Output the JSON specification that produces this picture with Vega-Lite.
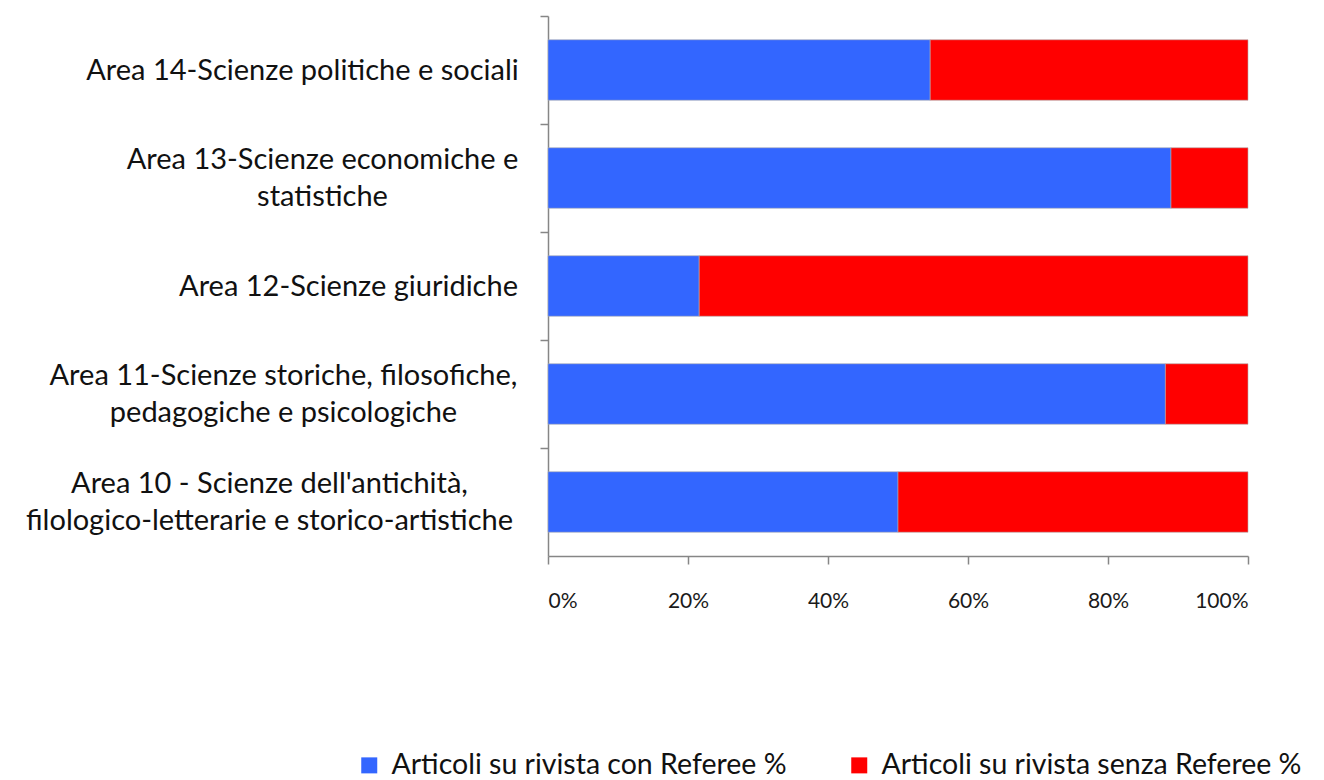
{
  "$schema": "https://vega.github.io/schema/vega-lite/v6.json",
  "width": 700,
  "height": 540,
  "autosize": "none",
  "padding": {"left": 548, "top": 16, "right": 76, "bottom": 224},
  "background": "white",
  "config": {
    "view": {"stroke": null},
    "font": "Lato"
  },
  "data": {
    "values": [
      {"area": "Area 14-Scienze politiche e sociali", "serie": "Articoli su rivista con Referee %", "valore": 54.6},
      {"area": "Area 14-Scienze politiche e sociali", "serie": "Articoli su rivista senza Referee %", "valore": 45.4},
      {"area": "Area 13-Scienze economiche e|statistiche", "serie": "Articoli su rivista con Referee %", "valore": 89.0},
      {"area": "Area 13-Scienze economiche e|statistiche", "serie": "Articoli su rivista senza Referee %", "valore": 11.0},
      {"area": "Area 12-Scienze giuridiche", "serie": "Articoli su rivista con Referee %", "valore": 21.6},
      {"area": "Area 12-Scienze giuridiche", "serie": "Articoli su rivista senza Referee %", "valore": 78.4},
      {"area": "Area 11-Scienze storiche, filosofiche,|pedagogiche e psicologiche", "serie": "Articoli su rivista con Referee %", "valore": 88.2},
      {"area": "Area 11-Scienze storiche, filosofiche,|pedagogiche e psicologiche", "serie": "Articoli su rivista senza Referee %", "valore": 11.8},
      {"area": "Area 10 - Scienze dell'antichità,|filologico-letterarie e storico-artistiche", "serie": "Articoli su rivista con Referee %", "valore": 50.0},
      {"area": "Area 10 - Scienze dell'antichità,|filologico-letterarie e storico-artistiche", "serie": "Articoli su rivista senza Referee %", "valore": 50.0}
    ]
  },
  "mark": {"type": "bar", "stroke": "#b0b0b0", "strokeWidth": 0.6},
  "encoding": {
    "y": {
      "field": "area",
      "type": "nominal",
      "sort": [
        "Area 14-Scienze politiche e sociali",
        "Area 13-Scienze economiche e|statistiche",
        "Area 12-Scienze giuridiche",
        "Area 11-Scienze storiche, filosofiche,|pedagogiche e psicologiche",
        "Area 10 - Scienze dell'antichità,|filologico-letterarie e storico-artistiche"
      ],
      "scale": {"paddingInner": 0.44, "paddingOuter": 0.22},
      "axis": {
        "title": null,
        "labelExpr": "split(datum.label, '|')",
        "labelFont": "Lato",
        "labelFontSize": 29,
        "labelColor": "#111",
        "labelLineHeight": 37,
        "labelLimit": 700,
        "labelAlign": "center",
        "labelPadding": {
          "condition": [
            {"test": "indexof(datum.value, 'Area 14') == 0", "value": 238},
            {"test": "indexof(datum.value, 'Area 13') == 0", "value": 218},
            {"test": "indexof(datum.value, 'Area 12') == 0", "value": 192},
            {"test": "indexof(datum.value, 'Area 11') == 0", "value": 257}
          ],
          "value": 271
        },
        "labelOffset": {
          "condition": [
            {"test": "indexof(datum.value, 'Area 14') == 0", "value": 54},
            {"test": "indexof(datum.value, 'Area 12') == 0", "value": 54}
          ],
          "value": 35.5
        },
        "tickOffset": -54,
        "tickSize": 8,
        "tickColor": "#868686",
        "domainColor": "#868686",
        "domainWidth": 1.5,
        "tickWidth": 1.5
      }
    },
    "x": {
      "field": "valore",
      "type": "quantitative",
      "stack": "normalize",
      "scale": {"domain": [0, 1]},
      "axis": {
        "title": null,
        "format": ".0%",
        "values": [0, 0.2, 0.4, 0.6, 0.8, 1],
        "grid": false,
        "labelFont": "Lato",
        "labelFontSize": 21,
        "labelColor": "#1a1a1a",
        "labelPadding": 26,
        "tickSize": 8,
        "tickColor": "#868686",
        "domainColor": "#868686",
        "domainWidth": 1.5,
        "tickWidth": 1.5
      }
    },
    "color": {
      "field": "serie",
      "type": "nominal",
      "scale": {
        "domain": ["Articoli su rivista con Referee %", "Articoli su rivista senza Referee %"],
        "range": ["#3366FF", "#FF0000"]
      },
      "legend": {
        "title": null,
        "orient": "none",
        "direction": "horizontal",
        "columns": 2,
        "legendX": -193,
        "legendY": 735,
        "symbolType": "square",
        "symbolSize": 256,
        "symbolStrokeWidth": 0,
        "labelFont": "Lato",
        "labelFontSize": 28.5,
        "labelColor": "#111",
        "labelLimit": 700,
        "columnPadding": 58,
        "labelOffset": 8
      }
    },
    "order": {"field": "serie", "sort": "ascending"}
  }
}
